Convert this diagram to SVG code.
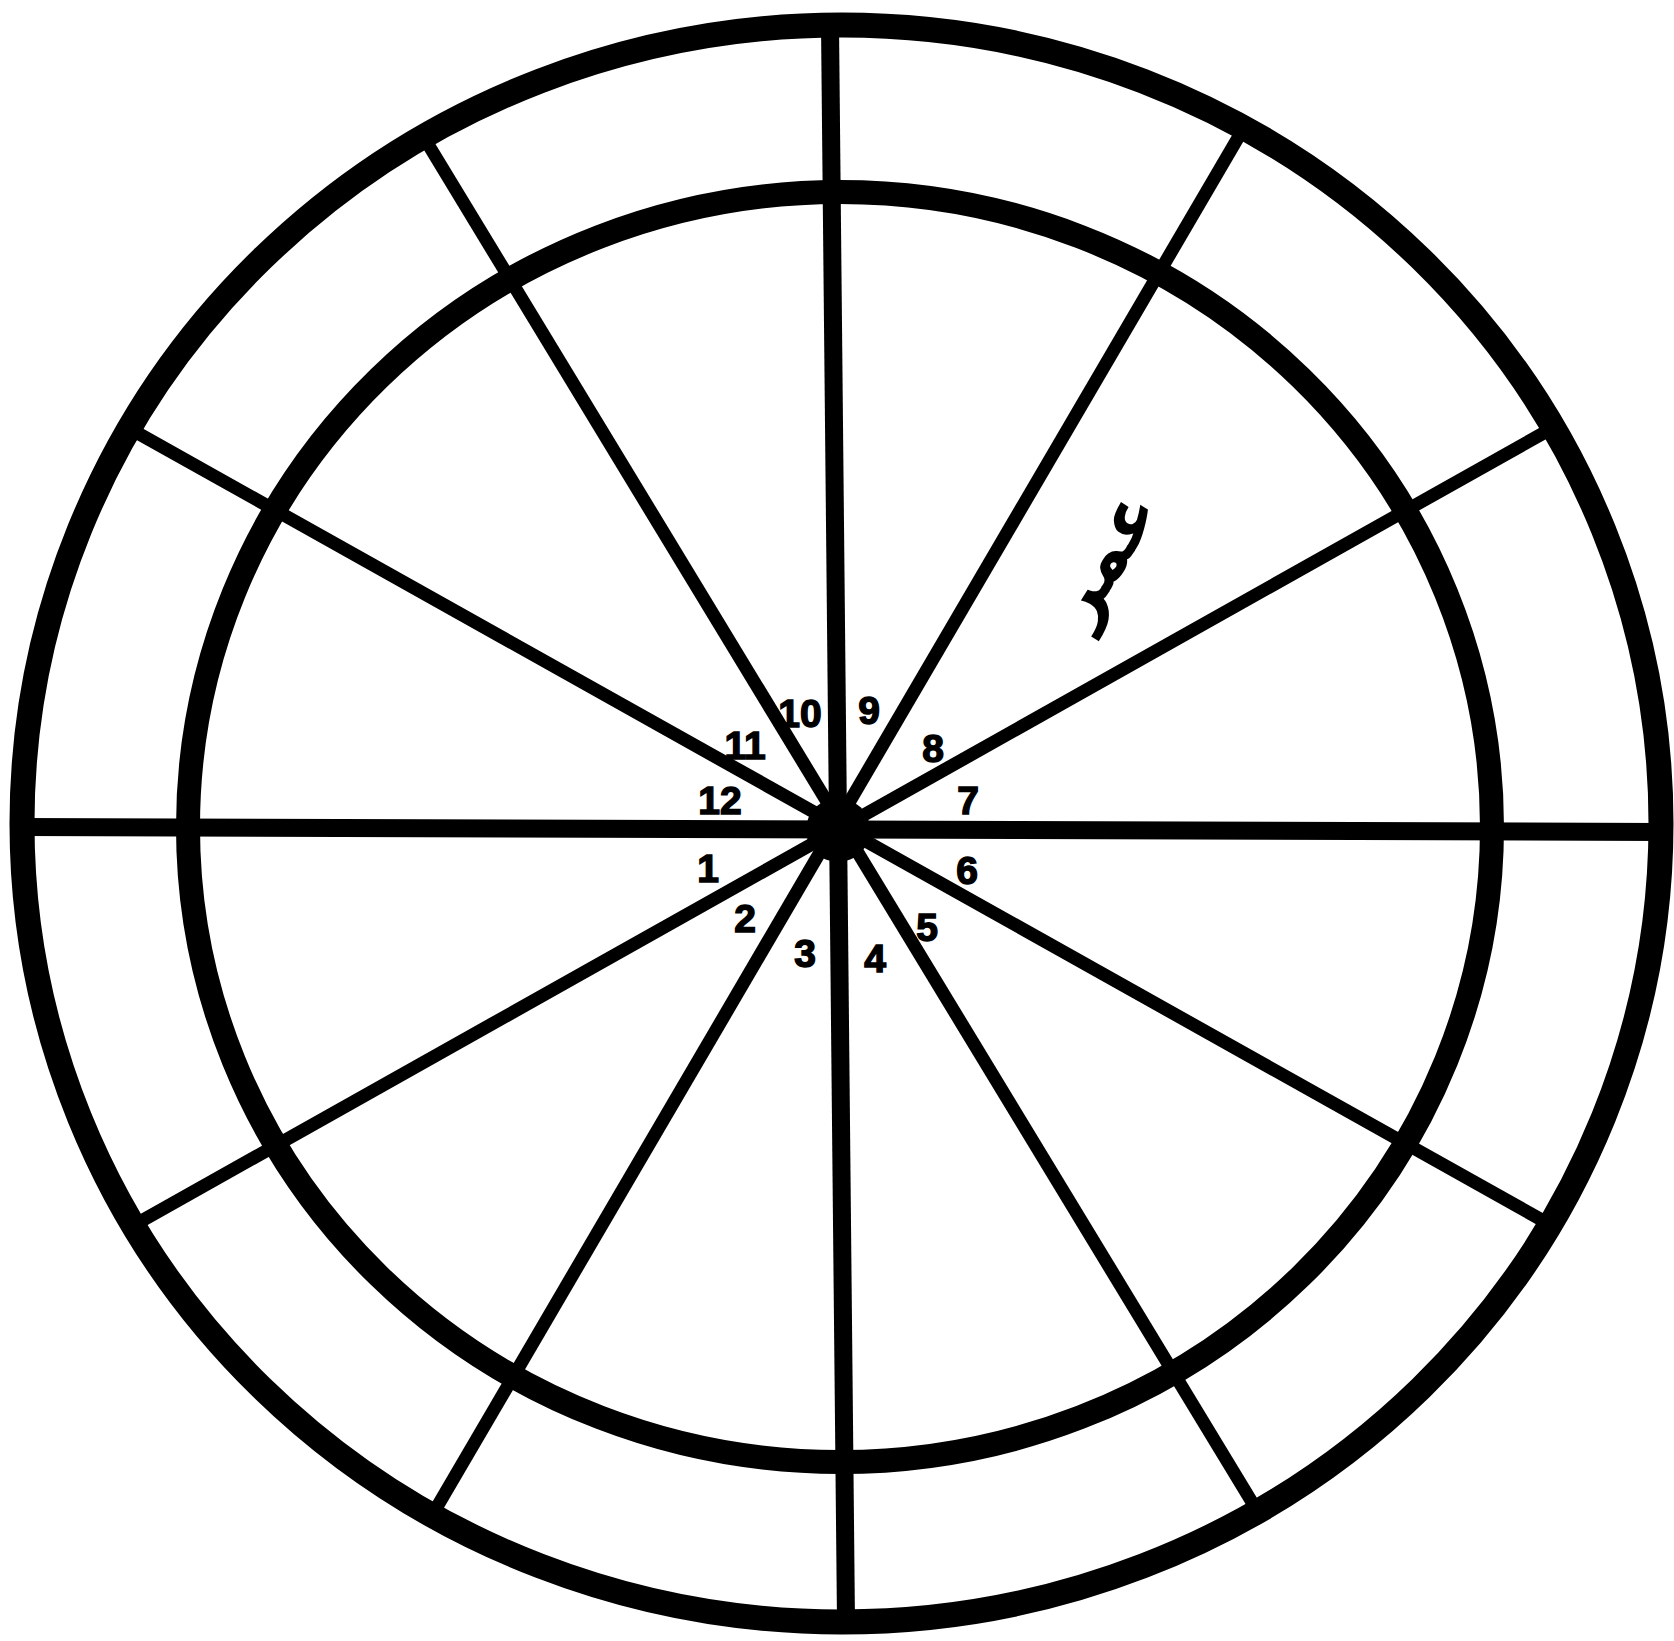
<svg xmlns="http://www.w3.org/2000/svg" width="1674" height="1641" viewBox="0 0 1674 1641">
<style>
.ring{fill:none;stroke:#000;stroke-width:25}
.axis{stroke:#000;stroke-width:18;stroke-linecap:butt}
.spoke{stroke:#000;stroke-width:13;stroke-linecap:butt}
.num{font-family:"Liberation Sans",Arial,sans-serif;font-weight:bold;font-size:39px;fill:#000;text-anchor:middle;dominant-baseline:central;stroke:#000;stroke-width:1.5}
.ar{font-family:"DejaVu Sans",sans-serif;font-weight:bold;font-size:72px;fill:#000;text-anchor:middle;dominant-baseline:central}
</style>
<rect width="1674" height="1641" fill="#fff"/>
<g id="outer-ring"><ellipse class="ring" cx="841.5" cy="823.5" rx="819.5" ry="798.5"/></g>
<g id="inner-ring"><ellipse class="ring" cx="840" cy="827" rx="652" ry="635" style="stroke-width:24"/></g>
<g id="connectors">
<line class="axis" x1="830" y1="25" x2="846" y2="1622"/>
<line class="axis" x1="22" y1="827" x2="1661" y2="832"/>
<line class="spoke" x1="420" y1="131" x2="1261" y2="1517"/>
<line class="spoke" x1="1242" y1="131" x2="434" y2="1512"/>
<line class="spoke" x1="125" y1="426" x2="1558" y2="1229"/>
<line class="spoke" x1="1549" y1="430" x2="136" y2="1224"/>
<circle cx="838" cy="830" r="32" fill="#000"/>
</g>
<g id="labels">
<text class="num" x="800" y="713">10</text>
<text class="num" x="869" y="710">9</text>
<text class="num" x="745" y="745">11</text>
<text class="num" x="933" y="748">8</text>
<text class="num" x="720" y="800">12</text>
<text class="num" x="968" y="800">7</text>
<text class="num" x="708" y="868">1</text>
<text class="num" x="967" y="870">6</text>
<text class="num" x="745" y="918">2</text>
<text class="num" x="927" y="927">5</text>
<text class="num" x="805" y="953">3</text>
<text class="num" x="875" y="958">4</text>
</g>
<g id="arabic-label"><text class="ar" transform="translate(1102 556) rotate(-58)">عمر</text></g>
</svg>
